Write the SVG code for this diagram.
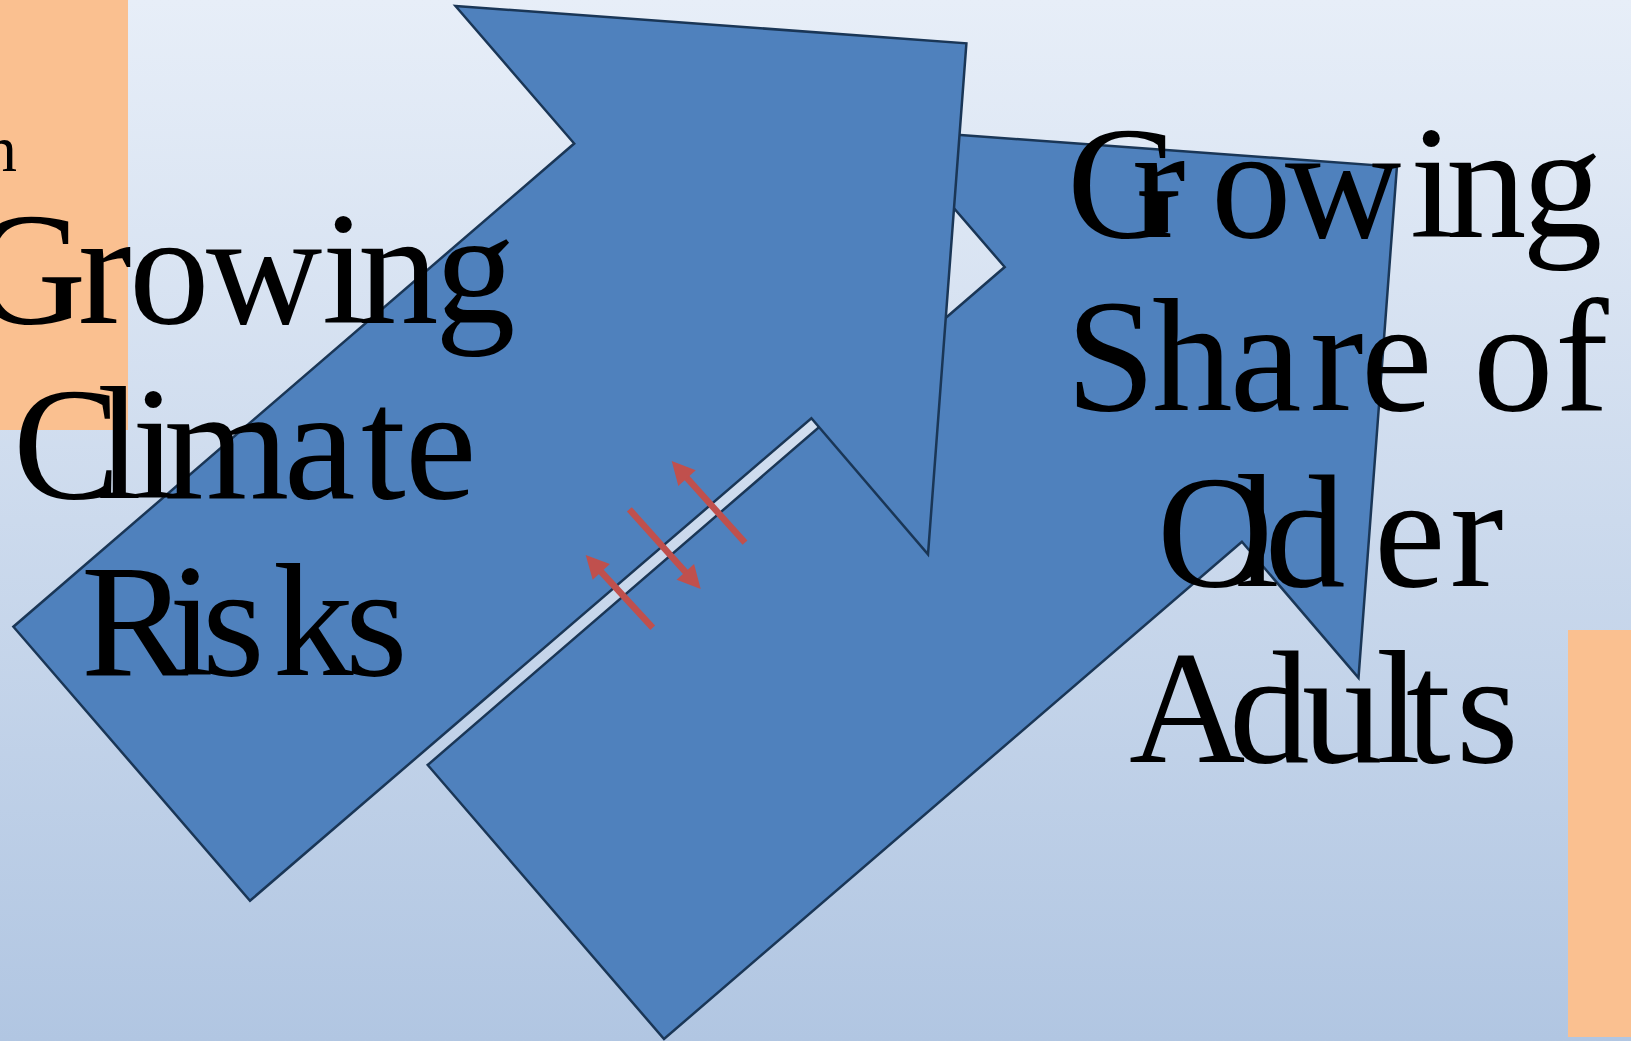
<svg xmlns="http://www.w3.org/2000/svg" width="1631" height="1041" viewBox="0 0 1631 1041">
  <defs>
    <linearGradient id="bg" x1="0" y1="0" x2="0" y2="1">
      <stop offset="0" stop-color="#e7eef8"/>
      <stop offset="1" stop-color="#b1c6e2"/>
    </linearGradient>
    <marker id="redhead" markerUnits="userSpaceOnUse" markerWidth="24" markerHeight="24" refX="3" refY="11.7" orient="auto" overflow="visible">
      <path d="M0,0 L23,11.7 L0,23.4 Z" fill="#c0504d"/>
    </marker>
    <style>
      .box { fill: #fac090; }
      .big { fill: #4f81bd; stroke: #1a3656; stroke-width: 2.5; stroke-linejoin: miter; }
      .lbl { font-family: "Liberation Serif", "Times New Roman", serif; font-size: 161px; fill: #000; }
      .small { font-family: "Liberation Serif", "Times New Roman", serif; font-size: 66px; fill: #000; }
      .conn { stroke: #c0504d; stroke-width: 6.5; fill: none; marker-end: url(#redhead); }
    </style>
  </defs>

  <rect x="0" y="0" width="1631" height="1041" fill="url(#bg)"/>

  <g id="box-left">
    <rect class="box" x="0" y="0" width="128" height="430"/>
    <text class="small" x="-16" y="171">n</text>
  </g>
  <g id="box-right">
    <rect class="box" x="1568" y="630" width="63" height="407"/>
  </g>

  <g id="arrow-older-adults">
    <polygon class="big" points="886,129.5 1396.9,166.8 1358.5,677.9 1241.9,541.7 664,1039 427.7,765 1004.7,267"/>
  </g>
  <g id="arrow-climate">
    <polygon class="big" points="455.5,6 966.4,43.3 928,554.4 811.4,418.2 250,900.7 13.4,626.7 574.2,143.5"/>
  </g>

  <g id="connectors">
    <line class="conn" x1="745" y1="542.7" x2="685.05" y2="475.9"/>
    <line class="conn" x1="629.3" y1="509.3" x2="687.35" y2="574.1"/>
    <line class="conn" x1="652.7" y1="627.7" x2="599.25" y2="569.7"/>
  </g>

  <g id="label-climate">
    <text class="lbl" x="-30 78 129 206 322 358 435" y="323">Growing</text>
    <text class="lbl" x="13 97 132 164 284 361 405" y="498">Climate</text>
    <text class="lbl" x="81 169 202 273 345" y="675">Risks</text>
  </g>
  <g id="label-older-adults">
    <text class="lbl" x="1067 1132 1211 1285 1410 1446 1522" y="237">Growing</text>
    <text class="lbl" x="1066 1152 1230 1310 1361 1432 1473 1555" y="410">Share of</text>
    <text class="lbl" x="1157 1235 1265 1374 1450" y="586">Older</text>
    <text class="lbl" x="1129 1229 1302 1376 1406 1456" y="762">Adults</text>
  </g>
</svg>
